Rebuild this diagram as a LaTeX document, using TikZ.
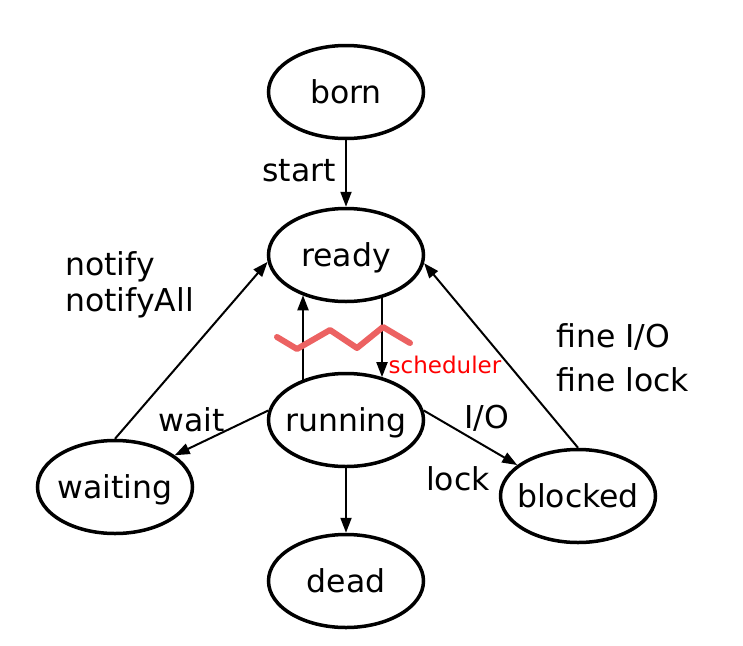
\documentclass[tikz,border=0pt]{standalone}
\usepackage{fontspec}
\setmainfont{DejaVu Sans}
\usetikzlibrary{arrows.meta,shapes.geometric}
\definecolor{wave}{RGB}{236,98,98}
\tikzset{
  state/.style={ellipse, draw=black, line width=3.5pt, minimum width=155pt, minimum height=93pt, inner sep=0pt, font=\fontsize{31.5}{36}\selectfont,
    text height=27pt, text depth=4pt,
    execute at begin node={\hbox to 0pt\bgroup\hss}, execute at end node={\hss\egroup}},
  lbl/.style={inner sep=0pt, font=\fontsize{31.5}{36}\selectfont},
  trans/.style={line width=2pt, -{Triangle[length=15pt,width=11pt]}},
}
\begin{document}
\begin{tikzpicture}[x=1pt,y=-1pt]
\path[use as bounding box] (0,0) rectangle (743,645);
\node[state] (born) at (346,92) {born};
\node[state] (ready) at (346,255) {ready};
\node[state] (running) at (346,420) {running};
\node[state] (waiting) at (115,487) {waiting};
\node[state] (blocked) at (578,496) {blocked};
\node[state] (dead) at (346,581) {dead};

\draw[trans] (born) -- (ready);
\draw[trans] ([shift={(-43,8)}]running.north) -- ([shift={(-43,-8)}]ready.south);
\draw[trans] ([shift={(36,-5.4)}]ready.south) -- ([shift={(36,5.4)}]running.north);
\draw[trans] (waiting.north) -- (ready.185);
\draw[trans] (blocked.north) -- (ready.-6);
\draw[trans] (running.173) -- (waiting.28);
\draw[trans] (running.7) -- (blocked.153);
\draw[trans] (running) -- (dead);

\draw[wave, line width=6pt, line cap=round, line join=round]
  (277,337) -- (297,349) -- (330,330) -- (357,348) -- (383,327) -- (410,343);

\node[lbl] (lstart) at (299,171) {start};
\node[lbl, anchor=west] (lnotify) at (65,267) {notify};
\node[lbl, anchor=west] (lnotifyall) at (65,303) {notifyAll};
\node[lbl] (lwait) at (192,420) {wait};
\node[lbl] (lio) at (487,418) {I/O};
\node[lbl] (llock) at (458,479) {lock};
\node[lbl, anchor=west] (lfineio) at (556,337) {fine I/O};
\node[lbl, anchor=west] (lfinelock) at (556,380) {fine lock};
\node[inner sep=0pt, text=red, font=\fontsize{23}{28}\selectfont] (lsched) at (445,365) {scheduler};
\end{tikzpicture}
\end{document}
